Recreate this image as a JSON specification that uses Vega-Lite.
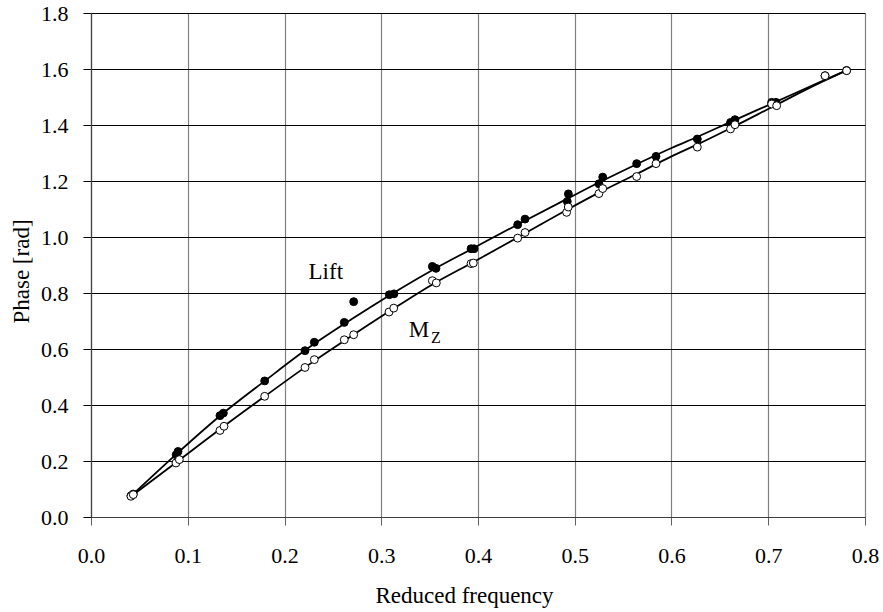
{
  "$schema": "https://vega.github.io/schema/vega-lite/v6.json",
  "width": 774,
  "height": 504,
  "autosize": "none",
  "padding": {"left": 91, "top": 13, "right": 18, "bottom": 95},
  "background": "white",
  "config": {
    "view": {"stroke": null},
    "font": "Liberation Serif, Times New Roman, serif",
    "axis": {
      "labelFont": "Liberation Serif, Times New Roman, serif",
      "titleFont": "Liberation Serif, Times New Roman, serif",
      "labelFontSize": 22,
      "titleFontSize": 23,
      "titleFontWeight": "normal",
      "labelColor": "black",
      "titleColor": "black",
      "tickSize": 8,
      "gridOpacity": 1
    }
  },
  "datasets": {
    "points": [
      {"x": 0.0437, "y": 0.082, "s": "Lift"},
      {"x": 0.0413, "y": 0.076, "s": "Lift"},
      {"x": 0.088, "y": 0.222, "s": "Lift"},
      {"x": 0.090, "y": 0.234, "s": "Lift"},
      {"x": 0.1333, "y": 0.362, "s": "Lift"},
      {"x": 0.1368, "y": 0.371, "s": "Lift"},
      {"x": 0.1795, "y": 0.486, "s": "Lift"},
      {"x": 0.2212, "y": 0.594, "s": "Lift"},
      {"x": 0.2308, "y": 0.624, "s": "Lift"},
      {"x": 0.2618, "y": 0.695, "s": "Lift"},
      {"x": 0.2715, "y": 0.769, "s": "Lift"},
      {"x": 0.3083, "y": 0.794, "s": "Lift"},
      {"x": 0.3132, "y": 0.797, "s": "Lift"},
      {"x": 0.3528, "y": 0.895, "s": "Lift"},
      {"x": 0.3566, "y": 0.888, "s": "Lift"},
      {"x": 0.3928, "y": 0.958, "s": "Lift"},
      {"x": 0.3959, "y": 0.958, "s": "Lift"},
      {"x": 0.441, "y": 1.044, "s": "Lift"},
      {"x": 0.4486, "y": 1.064, "s": "Lift"},
      {"x": 0.4923, "y": 1.127, "s": "Lift"},
      {"x": 0.4934, "y": 1.154, "s": "Lift"},
      {"x": 0.525, "y": 1.19, "s": "Lift"},
      {"x": 0.5289, "y": 1.214, "s": "Lift"},
      {"x": 0.564, "y": 1.262, "s": "Lift"},
      {"x": 0.584, "y": 1.288, "s": "Lift"},
      {"x": 0.6267, "y": 1.35, "s": "Lift"},
      {"x": 0.661, "y": 1.409, "s": "Lift"},
      {"x": 0.6656, "y": 1.419, "s": "Lift"},
      {"x": 0.7035, "y": 1.481, "s": "Lift"},
      {"x": 0.708, "y": 1.481, "s": "Lift"},
      {"x": 0.7587, "y": 1.576, "s": "Lift"},
      {"x": 0.781, "y": 1.595, "s": "Lift"},
      {"x": 0.0413, "y": 0.074, "s": "Mz"},
      {"x": 0.0437, "y": 0.080, "s": "Mz"},
      {"x": 0.0878, "y": 0.193, "s": "Mz"},
      {"x": 0.0913, "y": 0.205, "s": "Mz"},
      {"x": 0.1333, "y": 0.309, "s": "Mz"},
      {"x": 0.1375, "y": 0.324, "s": "Mz"},
      {"x": 0.1795, "y": 0.431, "s": "Mz"},
      {"x": 0.2212, "y": 0.534, "s": "Mz"},
      {"x": 0.2308, "y": 0.562, "s": "Mz"},
      {"x": 0.2618, "y": 0.633, "s": "Mz"},
      {"x": 0.2715, "y": 0.651, "s": "Mz"},
      {"x": 0.308, "y": 0.732, "s": "Mz"},
      {"x": 0.3129, "y": 0.746, "s": "Mz"},
      {"x": 0.3528, "y": 0.844, "s": "Mz"},
      {"x": 0.3569, "y": 0.836, "s": "Mz"},
      {"x": 0.3928, "y": 0.905, "s": "Mz"},
      {"x": 0.3952, "y": 0.907, "s": "Mz"},
      {"x": 0.441, "y": 0.996, "s": "Mz"},
      {"x": 0.4486, "y": 1.016, "s": "Mz"},
      {"x": 0.4916, "y": 1.088, "s": "Mz"},
      {"x": 0.4933, "y": 1.107, "s": "Mz"},
      {"x": 0.525, "y": 1.155, "s": "Mz"},
      {"x": 0.5289, "y": 1.173, "s": "Mz"},
      {"x": 0.564, "y": 1.216, "s": "Mz"},
      {"x": 0.584, "y": 1.262, "s": "Mz"},
      {"x": 0.6267, "y": 1.321, "s": "Mz"},
      {"x": 0.661, "y": 1.386, "s": "Mz"},
      {"x": 0.6656, "y": 1.401, "s": "Mz"},
      {"x": 0.7035, "y": 1.475, "s": "Mz"},
      {"x": 0.7087, "y": 1.469, "s": "Mz"},
      {"x": 0.7587, "y": 1.576, "s": "Mz"},
      {"x": 0.781, "y": 1.594, "s": "Mz"}
    ],
    "curves": [
      {"x": 0.043, "y": 0.08, "s": "Lift"},
      {"x": 0.09, "y": 0.23, "s": "Lift"},
      {"x": 0.135, "y": 0.366, "s": "Lift"},
      {"x": 0.18, "y": 0.487, "s": "Lift"},
      {"x": 0.226, "y": 0.607, "s": "Lift"},
      {"x": 0.27, "y": 0.708, "s": "Lift"},
      {"x": 0.31, "y": 0.795, "s": "Lift"},
      {"x": 0.355, "y": 0.886, "s": "Lift"},
      {"x": 0.394, "y": 0.958, "s": "Lift"},
      {"x": 0.445, "y": 1.052, "s": "Lift"},
      {"x": 0.493, "y": 1.138, "s": "Lift"},
      {"x": 0.527, "y": 1.198, "s": "Lift"},
      {"x": 0.564, "y": 1.26, "s": "Lift"},
      {"x": 0.6, "y": 1.318, "s": "Lift"},
      {"x": 0.627, "y": 1.358, "s": "Lift"},
      {"x": 0.663, "y": 1.414, "s": "Lift"},
      {"x": 0.706, "y": 1.48, "s": "Lift"},
      {"x": 0.75, "y": 1.548, "s": "Lift"},
      {"x": 0.781, "y": 1.595, "s": "Lift"},
      {"x": 0.043, "y": 0.078, "s": "Mz"},
      {"x": 0.09, "y": 0.2, "s": "Mz"},
      {"x": 0.135, "y": 0.318, "s": "Mz"},
      {"x": 0.18, "y": 0.432, "s": "Mz"},
      {"x": 0.226, "y": 0.546, "s": "Mz"},
      {"x": 0.27, "y": 0.648, "s": "Mz"},
      {"x": 0.31, "y": 0.738, "s": "Mz"},
      {"x": 0.355, "y": 0.835, "s": "Mz"},
      {"x": 0.395, "y": 0.91, "s": "Mz"},
      {"x": 0.445, "y": 1.006, "s": "Mz"},
      {"x": 0.493, "y": 1.099, "s": "Mz"},
      {"x": 0.527, "y": 1.162, "s": "Mz"},
      {"x": 0.564, "y": 1.225, "s": "Mz"},
      {"x": 0.6, "y": 1.288, "s": "Mz"},
      {"x": 0.627, "y": 1.331, "s": "Mz"},
      {"x": 0.663, "y": 1.392, "s": "Mz"},
      {"x": 0.706, "y": 1.468, "s": "Mz"},
      {"x": 0.75, "y": 1.545, "s": "Mz"},
      {"x": 0.781, "y": 1.595, "s": "Mz"}
    ],
    "labels": [
      {"x": 0.2427, "y": 0.876, "t": "Lift", "role": "main"},
      {"x": 0.339, "y": 0.669, "t": "M", "role": "main"},
      {"x": 0.3566, "y": 0.6386, "t": "Z", "role": "sub"}
    ]
  },
  "encoding": {
    "x": {
      "field": "x", "type": "quantitative",
      "scale": {"domain": [0, 0.8], "nice": false, "zero": false},
      "axis": {
        "values": [0, 0.1, 0.2, 0.3, 0.4, 0.5, 0.6, 0.7, 0.8],
        "format": ".1f",
        "title": "Reduced frequency",
        "grid": true,
        "gridColor": "#808080",
        "gridWidth": 1.2,
        "tickColor": "#606060",
        "domainColor": "#404040",
        "domainWidth": 1.2,
        "labelPadding": 20,
        "labelFlush": false,
        "titleBaseline": "alphabetic",
        "titleY": 85,
        "titleX": 373,
        "titleAlign": "center"
      }
    },
    "y": {
      "field": "y", "type": "quantitative",
      "scale": {"domain": [0, 1.8], "nice": false, "zero": false},
      "axis": {
        "values": [0, 0.2, 0.4, 0.6, 0.8, 1.0, 1.2, 1.4, 1.6, 1.8],
        "format": ".1f",
        "title": "Phase [rad]",
        "grid": true,
        "gridColor": "#000000",
        "gridWidth": 1.2,
        "tickColor": "#000000",
        "domainColor": "#404040",
        "domainWidth": 1.2,
        "labelPadding": 15,
        "labelFlush": false,
        "titleBaseline": "alphabetic",
        "titleX": -63,
        "titleY": 258,
        "titleAlign": "center",
        "titleAngle": -90
      }
    }
  },
  "layer": [
    {
      "data": {"name": "curves"},
      "mark": {"type": "line", "color": "black", "strokeWidth": 1.8, "interpolate": "monotone"},
      "encoding": {"detail": {"field": "s"}}
    },
    {
      "data": {"name": "points"},
      "mark": {"type": "point", "shape": "circle", "size": 62, "filled": false, "stroke": "black", "strokeWidth": 1, "opacity": 1},
      "encoding": {
        "fill": {"field": "s", "type": "nominal", "scale": {"domain": ["Lift", "Mz"], "range": ["black", "white"]}, "legend": null}
      }
    },
    {
      "data": {"name": "labels"},
      "transform": [{"filter": "datum.role == 'main'"}],
      "mark": {"type": "text", "font": "Liberation Serif, Times New Roman, serif", "fontSize": 23, "color": "black", "align": "center", "baseline": "middle"},
      "encoding": {"text": {"field": "t"}}
    },
    {
      "data": {"name": "labels"},
      "transform": [{"filter": "datum.role == 'sub'"}],
      "mark": {"type": "text", "font": "Liberation Serif, Times New Roman, serif", "fontSize": 16, "color": "black", "align": "center", "baseline": "middle"},
      "encoding": {"text": {"field": "t"}}
    }
  ]
}
